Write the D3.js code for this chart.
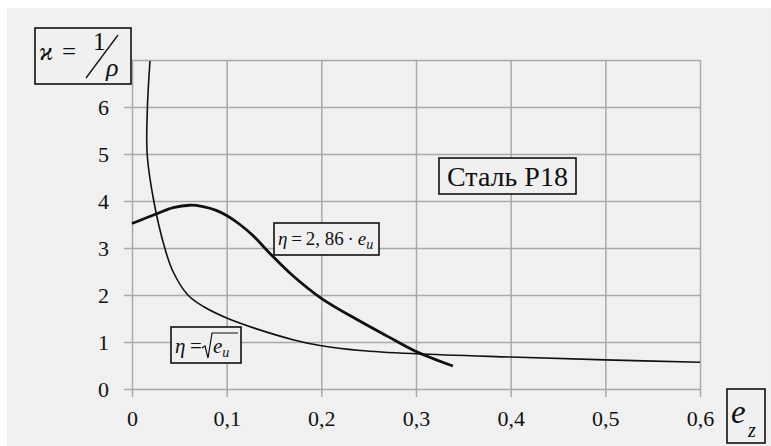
<!DOCTYPE html>
<html>
<head>
<meta charset="utf-8">
<title>Сталь Р18</title>
<script src="https://cdn.jsdelivr.net/npm/d3@7"></script>
<style>
  body { margin: 0; background: #fff; }
  #svg, #svg text { font-family: "Liberation Serif", serif; }
</style>
</head>
<body>
<svg id="svg" width="771" height="446"></svg>
<script>
// data
var xTicks = [0, 0.1, 0.2, 0.3, 0.4, 0.5, 0.6];
var xTickLabels = ["0", "0,1", "0,2", "0,3", "0,4", "0,5", "0,6"];
var yTicks = [0, 1, 2, 3, 4, 5, 6, 7];
var yTickLabels = ["0", "1", "2", "3", "4", "5", "6", ""];

// thin curve, eta = sqrt(e_u)  (ordered along the curve)
var sqrtE = [0.019, 0.0163, 0.016, 0.023, 0.0346, 0.0433, 0.059, 0.075, 0.100, 0.130, 0.170, 0.200, 0.241, 0.300, 0.400, 0.500, 0.600];
var sqrtK = [6.98, 6.0, 5.0, 4.0, 3.0, 2.5, 2.0, 1.76, 1.51, 1.29, 1.05, 0.92, 0.82, 0.75, 0.68, 0.62, 0.57];

// thick curve, eta = 2,86 e_u
var linE = [0, 0.026, 0.0435, 0.061, 0.075, 0.089, 0.100, 0.114, 0.128, 0.146, 0.170, 0.200, 0.241, 0.270, 0.300, 0.339];
var linK = [3.52, 3.73, 3.86, 3.91, 3.88, 3.80, 3.69, 3.50, 3.26, 2.88, 2.41, 1.93, 1.44, 1.12, 0.80, 0.49];

(function () {
var FONT = "Liberation Serif";
var svg = d3.select("#svg").attr("font-family", FONT);
var pLeft = 132, pRight = 700, pTop = 60, pBottom = 389;

// background with faint dots
var defs = svg.append("defs");
var pat = defs.append("pattern").attr("id", "dots")
  .attr("width", 8).attr("height", 8).attr("patternUnits", "userSpaceOnUse");
pat.append("rect").attr("width", 8).attr("height", 8).attr("fill", "#f0f0f0");
pat.append("rect").attr("x", 3).attr("y", 3).attr("width", 1).attr("height", 1).attr("fill", "#fbfbfb");
svg.append("rect").attr("x", 7).attr("y", 8).attr("width", 764).attr("height", 438).attr("fill", "url(#dots)");

var x = d3.scaleLinear().domain([0, 0.6]).range([pLeft, pRight]);
var y = d3.scaleLinear().domain([0, 7]).range([pBottom, pTop]);

// y axis + horizontal grid
var gy = svg.append("g").attr("transform", "translate(" + pLeft + ",0)")
  .call(d3.axisLeft(y).tickValues(yTicks).tickSize(-(pRight - pLeft)).tickPadding(23)
    .tickFormat(function (d, i) { return yTickLabels[i]; }));
gy.attr("font-family", FONT).attr("font-size", 22);
gy.select(".domain").remove();
gy.selectAll(".tick line").attr("x1", function (d) { return d === 7 ? 0 : -8; })
  .attr("stroke", "#a9a9a9").attr("stroke-width", 1.5);
gy.selectAll(".tick text").attr("dy", "0.33em").attr("fill", "#111");

// x axis + vertical grid
var gx = svg.append("g").attr("transform", "translate(0," + pBottom + ")")
  .call(d3.axisBottom(x).tickValues(xTicks).tickSize(-(pBottom - pTop)).tickPadding(21)
    .tickFormat(function (d, i) { return xTickLabels[i]; }));
gx.attr("font-family", FONT).attr("font-size", 22);
gx.select(".domain").remove();
gx.selectAll(".tick line").attr("y1", 8).attr("stroke", "#a9a9a9").attr("stroke-width", 1.5);
gx.selectAll(".tick text").attr("fill", "#111");

// curves
var line = d3.line().curve(d3.curveCatmullRom.alpha(0.5))
  .x(function (d) { return x(d[0]); }).y(function (d) { return y(d[1]); });

svg.append("path").datum(d3.zip(sqrtE, sqrtK)).attr("d", line)
  .attr("fill", "none").attr("stroke", "#111").attr("stroke-width", 1.6);
svg.append("path").datum(d3.zip(linE, linK)).attr("d", line)
  .attr("fill", "none").attr("stroke", "#111").attr("stroke-width", 2.8);

function box(x0, y0, w, h) {
  svg.append("rect").attr("x", x0).attr("y", y0).attr("width", w).attr("height", h)
    .attr("fill", "#f0f0f0").attr("stroke", "#111").attr("stroke-width", 1.6);
}
function txt(tx, ty, size, s, italic) {
  return svg.append("text").attr("x", tx).attr("y", ty).attr("font-size", size)
    .attr("font-family", FONT).attr("fill", "#111")
    .attr("font-style", italic ? "italic" : "normal").text(s);
}

// y axis title: ϰ = 1/ρ
box(35, 28, 96, 56);
txt(39, 60, 25, "ϰ", true);
txt(62, 60, 25, "=", false);
txt(93, 50, 25, "1", false);
svg.append("line").attr("x1", 86).attr("y1", 78).attr("x2", 118).attr("y2", 35)
  .attr("stroke", "#111").attr("stroke-width", 1.3);
txt(106, 76, 26, "ρ", true);

// x axis title: e_z
box(727, 389, 38, 54);
txt(731, 423, 33, "e", true);
txt(748, 437, 20, "z", true);

// material label
box(439, 158, 137, 36);
txt(507.5, 186, 28, "Сталь Р18", false).attr("text-anchor", "middle");

// label for thick curve
box(274, 223, 105, 32);
var t1 = txt(278, 245, 19, "", false);
t1.append("tspan").attr("font-style", "italic").text("η");
t1.append("tspan").text("\u2009=\u20092, 86\u2009·\u2009");
t1.append("tspan").attr("font-style", "italic").text("e");
t1.append("tspan").attr("font-style", "italic").attr("font-size", 14).attr("dy", 4).text("u");

// label for thin curve
box(171, 327, 70, 36);
txt(175, 353, 21, "η", true);
txt(190, 353, 21, "=", false);
svg.append("path").attr("d", "M202,348 L205,346 L208,358 L212,333 L238,333")
  .attr("fill", "none").attr("stroke", "#111").attr("stroke-width", 1.2);
var t3 = txt(213, 353, 21, "e", true);
t3.append("tspan").attr("font-size", 14).attr("dy", 4).text("u");
})();
</script>
</body>
</html>
